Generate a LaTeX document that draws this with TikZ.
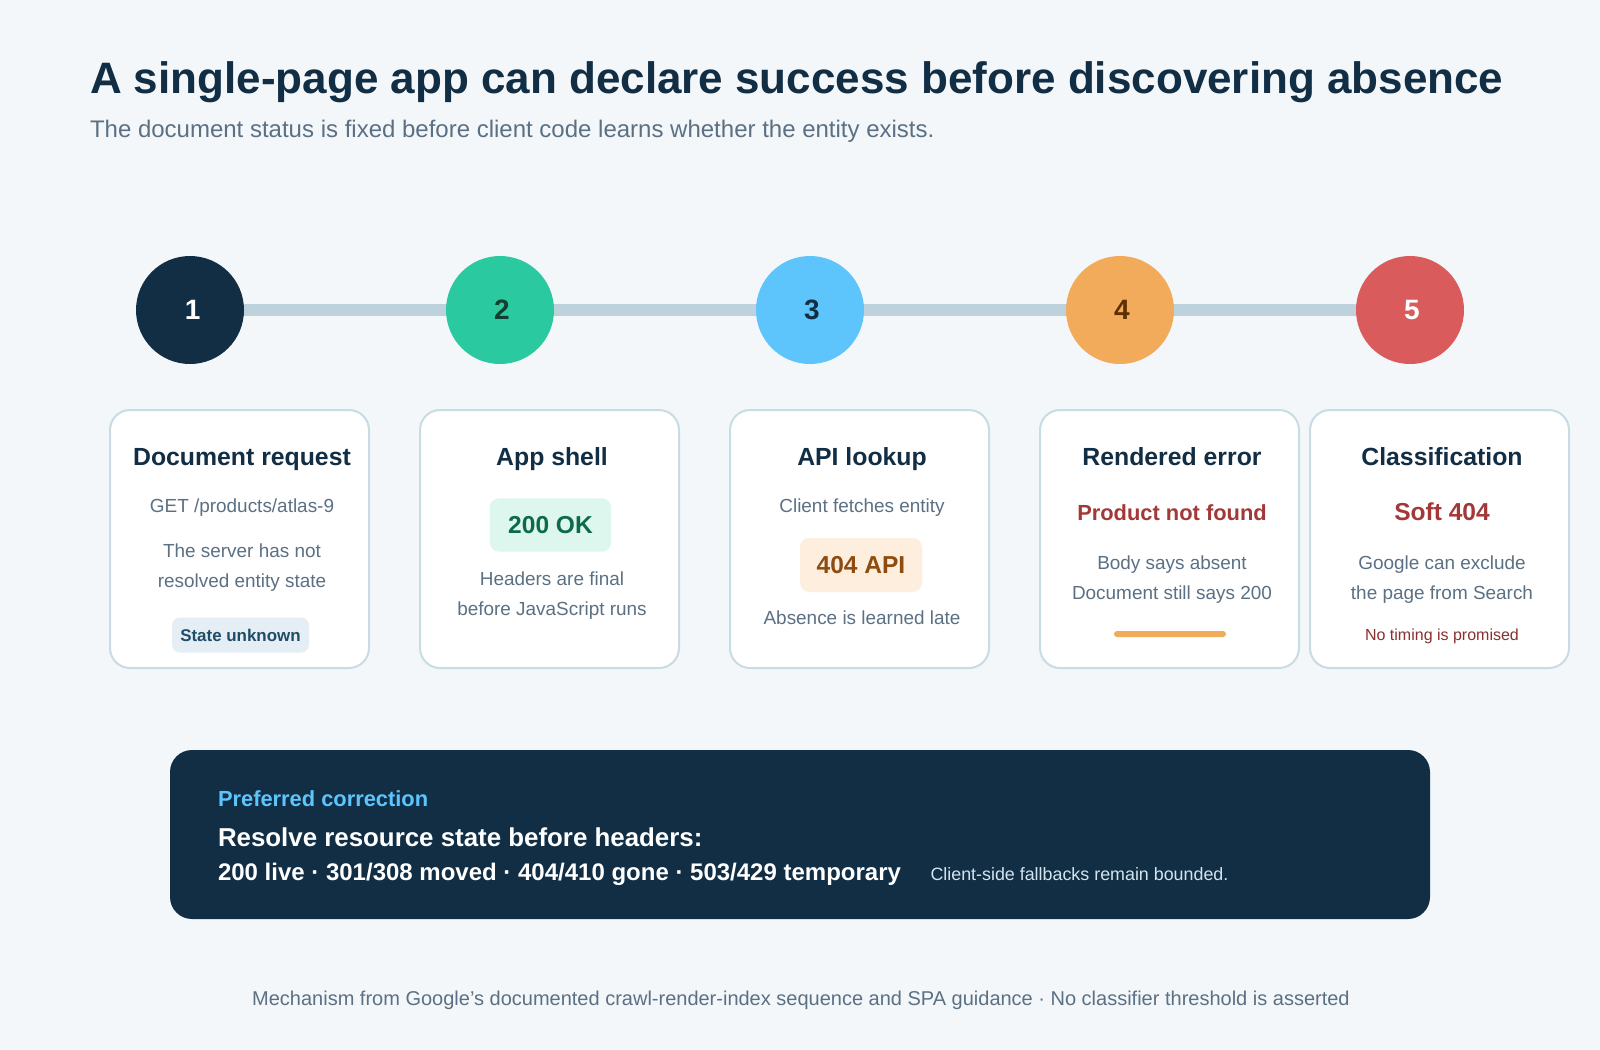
\documentclass[tikz,border=0pt]{standalone}
\usepackage{fontspec}
\setmainfont{Liberation Sans}
\usetikzlibrary{positioning}
\definecolor{bg}{HTML}{F3F7FA}
\definecolor{navy}{HTML}{112E45}
\definecolor{slate}{HTML}{5B7083}
\definecolor{cardline}{HTML}{C9DBE3}
\definecolor{track}{HTML}{BDD2DC}
\definecolor{cgreen}{HTML}{2BC9A0}
\definecolor{cgreentext}{HTML}{113D33}
\definecolor{cblue}{HTML}{5EC5FC}
\definecolor{corange}{HTML}{F2AA5B}
\definecolor{corangetext}{HTML}{5C3000}
\definecolor{cred}{HTML}{D95B5B}
\definecolor{redtext}{HTML}{A33838}
\definecolor{darkred}{HTML}{8B3030}
\definecolor{graybadge}{HTML}{E4EEF4}
\definecolor{graybadgetext}{HTML}{1E4D68}
\definecolor{greenbadge}{HTML}{DDF7EE}
\definecolor{greenbadgetext}{HTML}{0E6A4D}
\definecolor{orangebadge}{HTML}{FDEEDD}
\definecolor{orangebadgetext}{HTML}{8E4C10}
\definecolor{paneltext}{HTML}{D4E4EE}
\pgfdeclarelayer{back}
\pgfsetlayers{back,main}
\begin{document}
\begin{tikzpicture}[x=0.75pt,y=-0.75pt,
  every node/.style={inner sep=0pt,outer sep=0pt},
  dot/.style={circle,minimum size=81pt,font=\fontsize{21}{25}\selectfont\bfseries,text depth=0pt},
  card/.style={draw=cardline,line width=1.5pt,fill=white,rounded corners=15pt,minimum width=194.25pt,minimum height=193.5pt},
  cardtitle/.style={anchor=base,text=navy,font=\fontsize{18.6}{22}\selectfont\bfseries},
  body/.style={anchor=base,text=slate,font=\fontsize{14.2}{17}\selectfont},
  badge/.style={rounded corners=7pt,font=\fontsize{18.4}{22}\selectfont\bfseries},
  alert/.style={anchor=base,text=redtext,font=\fontsize{16.4}{20}\selectfont\bfseries},
  paneltxt/.style={anchor=base west}
]
\useasboundingbox (0,0) rectangle (1600,1050);
\begin{pgfonlayer}{back}
\fill[bg] (0,0) rectangle (1600,1050);
\end{pgfonlayer}

% title
\node[anchor=base west,text=navy,font=\fontsize{33}{40}\selectfont\bfseries] (title) at (90,93)
  {A single-page app can declare success before discovering absence};
\node[anchor=base west,text=slate,font=\fontsize{18}{22}\selectfont] (subtitle) at (90,137)
  {The document status is fixed before client code learns whether the entity exists.};

% timeline
\node[dot,fill=navy,text=white] (c1) at (190,310) {\hspace{4pt}1};
\node[dot,fill=cgreen,text=cgreentext] (c2) at (500,310) {\hspace{3pt}2};
\node[dot,fill=cblue,text=navy] (c3) at (810,310) {\hspace{3pt}3};
\node[dot,fill=corange,text=corangetext] (c4) at (1120,310) {\hspace{3pt}4};
\node[dot,fill=cred,text=white] (c5) at (1410,310) {\hspace{3pt}5};
\begin{pgfonlayer}{back}
\draw[track,line width=9pt] (c1.center) -- (c2.center) -- (c3.center) -- (c4.center) -- (c5.center);
\end{pgfonlayer}

% cards
\node[card] (k1) at (239.5,539) {};
\node[card] (k2) at (549.5,539) {};
\node[card] (k3) at (859.5,539) {};
\node[card] (k4) at (1169.5,539) {};
\node[card] (k5) at (1439.5,539) {};

% card 1
\node[cardtitle] (t1) at (242,465) {Document request};
\node[body] (b1a) at (242,512) {GET /products/atlas-9};
\node[body] (b1b) at (242,557) {The server has not};
\node[body] (b1c) at (242,587) {resolved entity state};
\node[fill=graybadge,text=graybadgetext,rounded corners=6pt,minimum width=102.75pt,minimum height=26.25pt,font=\fontsize{12.7}{15}\selectfont\bfseries] (s1) at (240.5,635) {State unknown};

% card 2
\node[cardtitle] (t2) at (552,465) {App shell};
\node[badge,fill=greenbadge,text=greenbadgetext,minimum width=91pt,minimum height=40pt] (s2) at (550.5,525) {200 OK};
\node[body] (b2a) at (552,585) {Headers are final};
\node[body] (b2b) at (552,615.5) {before JavaScript runs};

% card 3
\node[cardtitle] (t3) at (862,465) {API lookup};
\node[body] (b3a) at (862,512) {Client fetches entity};
\node[badge,fill=orangebadge,text=orangebadgetext,minimum width=91.5pt,minimum height=40.5pt] (s3) at (861,565) {404 API};
\node[body] (b3b) at (862,624) {Absence is learned late};

% card 4
\node[cardtitle] (t4) at (1172,465) {Rendered error};
\node[alert] (a4) at (1172,520) {Product not found};
\node[body] (b4a) at (1172,569) {Body says absent};
\node[body] (b4b) at (1172,599) {Document still says 200};
\node[fill=corange,rounded corners=2.25pt,minimum width=84pt,minimum height=4.5pt] (bar4) at (1170,634) {};

% card 5
\node[cardtitle] (t5) at (1442,465) {Classification};
\node[alert,font=\fontsize{18.4}{22}\selectfont\bfseries] (a5) at (1442,520) {Soft 404};
\node[body] (b5a) at (1442,569) {Google can exclude};
\node[body] (b5b) at (1442,599) {the page from Search};
\node[anchor=base,text=darkred,font=\fontsize{12}{14}\selectfont] (n5) at (1442,640) {No timing is promised};

% panel
\node[fill=navy,rounded corners=16.5pt,minimum width=945pt,minimum height=126.75pt] (panel) at (800,834.5) {};
\node[paneltxt,text=cblue,font=\fontsize{16.4}{20}\selectfont\bfseries] (p1) at (218,806.5) {Preferred correction};
\node[paneltxt,text=white,font=\fontsize{19.4}{23}\selectfont\bfseries] (p2) at (218,846.5) {Resolve resource state before headers:};
\node[paneltxt,text=white,font=\fontsize{18}{22}\selectfont\bfseries] (p3) at (218,880) {200 live · 301/308 moved · 404/410 gone · 503/429 temporary};
\node[paneltxt,text=paneltext,font=\fontsize{13.4}{16}\selectfont] (p4) at (930.5,880.5) {Client-side fallbacks remain bounded.};

% footer
\node[anchor=base,text=slate,font=\fontsize{15}{18}\selectfont] (foot) at (801,1005)
  {Mechanism from Google’s documented crawl-render-index sequence and SPA guidance · No classifier threshold is asserted};
\end{tikzpicture}
\end{document}
